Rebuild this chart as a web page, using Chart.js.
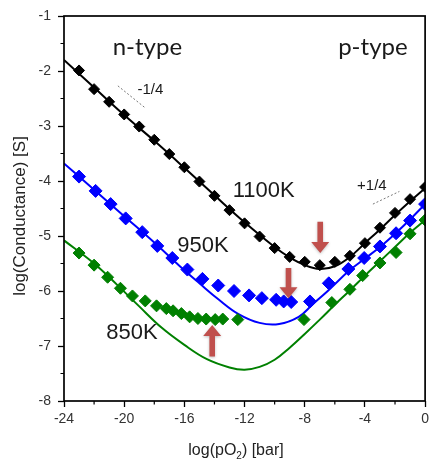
<!DOCTYPE html>
<html>
<head>
<meta charset="utf-8">
<script src="https://cdn.jsdelivr.net/npm/chart.js@4.4.0/dist/chart.umd.min.js"></script>
<style>
html, body { margin: 0; padding: 0; background: #fff; }
#wrap { width: 433px; height: 459px; }
</style>
</head>
<body>
<div id="wrap"><canvas id="condChart" width="433" height="459"></canvas></div>
<script>
// values: log(pO2) [bar] vs log(conductance) [S]
const xTicks = [-24, -20, -16, -12, -8, -4, 0];
const yTicks = [-1, -2, -3, -4, -5, -6, -7, -8];

const x1100 = [-23, -22, -21, -20, -19, -18, -17, -16, -15, -14, -13, -12, -11, -10, -9, -8, -7, -6, -5, -4, -3, -2, -1, 0];
const y1100 = [-1.99, -2.33, -2.56, -2.79, -3.01, -3.25, -3.51, -3.75, -4.01, -4.27, -4.53, -4.77, -5.01, -5.22, -5.38, -5.47, -5.53, -5.47, -5.36, -5.13, -4.85, -4.58, -4.33, -4.11];
const xFit1100 = [-24, -22, -20, -18, -16, -14, -12, -10, -9, -8, -7, -6, -5, -4, -3, -2, -1, 0];
const yFit1100 = [-1.8, -2.3, -2.8, -3.27, -3.76, -4.26, -4.75, -5.2, -5.39, -5.53, -5.6, -5.55, -5.38, -5.13, -4.88, -4.62, -4.37, -4.13];

const x950 = [-23, -21.9, -20.9, -19.9, -18.8, -17.8, -16.8, -15.8, -14.8, -13.75, -12.7, -11.7, -10.85, -9.9, -9.4, -8.9, -7.65, -6.4, -5.1, -4.05, -3.0, -1.93, -1.0, 0];
const y950 = [-3.92, -4.18, -4.42, -4.68, -4.93, -5.18, -5.40, -5.61, -5.78, -5.9, -6.0, -6.08, -6.13, -6.16, -6.19, -6.2, -6.19, -5.86, -5.6, -5.4, -5.19, -4.95, -4.72, -4.42];
const xFit950 = [-24, -22, -20, -18, -16.3, -15, -13.7, -12.4, -11, -9.7, -8.4, -7.5, -6.4, -5, -4, -3, -2, -1, 0];
const yFit950 = [-3.68, -4.16, -4.64, -5.12, -5.55, -5.86, -6.16, -6.42, -6.58, -6.6, -6.47, -6.25, -5.98, -5.62, -5.41, -5.2, -4.96, -4.7, -4.42];

const x850 = [-23, -22, -21.1, -20.25, -19.45, -18.6, -17.85, -17.2, -16.75, -16.2, -15.65, -15.1, -14.55, -13.95, -13.45, -12.45, -8.05, -6.2, -5.0, -4.15, -3.0, -1.93, -1.0, 0];
const y850 = [-5.31, -5.53, -5.75, -5.95, -6.09, -6.18, -6.27, -6.32, -6.36, -6.41, -6.47, -6.5, -6.51, -6.52, -6.51, -6.52, -6.52, -6.21, -5.97, -5.72, -5.49, -5.3, -4.96, -4.71];
const xFit850 = [-24, -22, -20.5, -19, -17.5, -16, -14.5, -13, -12, -11, -10, -9, -8, -7, -6, -5, -4, -3, -2, -1, 0];
const yFit850 = [-5.08, -5.5, -5.88, -6.28, -6.67, -6.98, -7.24, -7.39, -7.43, -7.38, -7.25, -7.03, -6.78, -6.52, -6.25, -5.99, -5.72, -5.46, -5.2, -4.94, -4.71];

// slope guides (-1/4 and +1/4)
const xSlopeN = [-20.42, -18.65];
const ySlopeN = [-2.27, -2.66];
const xSlopeP = [-3.47, -1.71];
const ySlopeP = [-4.42, -4.19];

// annotations in data units
const labels = [
    { text: 'n-type', x: -18.46, y: -1.56, font: '24px Lato' },
    { text: 'p-type', x: -3.47, y: -1.56, font: '24px Lato' },
    { text: '-1/4', x: -18.26, y: -2.35, font: '15px "Liberation Sans"' },
    { text: '+1/4', x: -3.54, y: -4.09, font: '15px "Liberation Sans"' },
    { text: '1100K', x: -10.73, y: -4.18, font: '22px "Liberation Sans"' },
    { text: '950K', x: -14.76, y: -5.18, font: '22px "Liberation Sans"' },
    { text: '850K', x: -19.48, y: -6.76, font: '22px "Liberation Sans"' }
];
const arrows = [
    { x: -6.97, from: -4.74, to: -5.31 },
    { x: -9.08, from: -5.58, to: -6.13 },
    { x: -14.15, from: -7.19, to: -6.62 }
];

function pts(xs, ys) {
    return xs.map((x, i) => ({ x: x, y: ys[i] }));
}

function scatterSet(xs, ys, color, r) {
    return {
        data: pts(xs, ys),
        showLine: false,
        pointStyle: 'rectRot',
        pointRadius: r,
        pointBackgroundColor: color,
        pointBorderColor: color,
        pointBorderWidth: 1,
        order: 0
    };
}

function fitSet(xs, ys, color) {
    return {
        data: pts(xs, ys),
        borderColor: color,
        borderWidth: 2,
        pointRadius: 0,
        tension: 0.4,
        fill: false,
        order: 1
    };
}

function guideSet(xs, ys) {
    return {
        data: pts(xs, ys),
        borderColor: '#777',
        borderWidth: 1,
        borderDash: [2, 2],
        pointRadius: 0,
        fill: false,
        order: 1
    };
}

const decorPlugin = {
    id: 'decor',
    afterDraw(chart) {
        const ctx = chart.ctx;
        const a = chart.chartArea;
        const xs = chart.scales.x;
        const ys = chart.scales.y;
        ctx.save();

        // frame
        ctx.strokeStyle = '#000';
        ctx.lineWidth = 1.7;
        ctx.strokeRect(a.left, a.top, a.right - a.left, a.bottom - a.top);

        // minor ticks
        ctx.lineWidth = 1.2;
        ctx.beginPath();
        for (let v = -22; v < 0; v += 4) {
            const px = xs.getPixelForValue(v);
            ctx.moveTo(px, a.bottom);
            ctx.lineTo(px, a.bottom + 3.5);
        }
        for (let v = -7.5; v < -1; v += 1) {
            const py = ys.getPixelForValue(v);
            ctx.moveTo(a.left, py);
            ctx.lineTo(a.left - 3.5, py);
        }
        ctx.stroke();

        // text labels
        ctx.fillStyle = '#1a1a1a';
        ctx.textAlign = 'center';
        ctx.textBaseline = 'middle';
        labels.forEach(l => {
            ctx.font = l.font;
            ctx.fillText(l.text, xs.getPixelForValue(l.x), ys.getPixelForValue(l.y));
        });

        // red arrows
        arrows.forEach(ar => {
            const px = xs.getPixelForValue(ar.x);
            const y0 = ys.getPixelForValue(ar.from);
            const y1 = ys.getPixelForValue(ar.to);
            const dir = y1 > y0 ? 1 : -1;
            const head = 11;
            ctx.save();
            ctx.shadowColor = 'rgba(0,0,0,0.25)';
            ctx.shadowBlur = 3;
            ctx.shadowOffsetY = 1;
            ctx.fillStyle = '#c0504d';
            ctx.beginPath();
            ctx.moveTo(px - 2.8, y0);
            ctx.lineTo(px + 2.8, y0);
            ctx.lineTo(px + 2.8, y1 - dir * head);
            ctx.lineTo(px + 9, y1 - dir * head);
            ctx.lineTo(px, y1);
            ctx.lineTo(px - 9, y1 - dir * head);
            ctx.lineTo(px - 2.8, y1 - dir * head);
            ctx.closePath();
            ctx.fill();
            ctx.restore();
        });

        // axis titles
        ctx.fillStyle = '#222';
        ctx.save();
        ctx.translate(20, 216);
        ctx.rotate(-Math.PI / 2);
        ctx.font = '17px "Liberation Sans"';
        ctx.fillText('log(Conductance) [S]', 0, 0);
        ctx.restore();

        const p1 = 'log(pO', p2 = ') [bar]';
        ctx.font = '16px "Liberation Sans"';
        const w1 = ctx.measureText(p1).width;
        const w3 = ctx.measureText(p2).width;
        ctx.font = '10px "Liberation Sans"';
        const w2 = ctx.measureText('2').width;
        let sx = 236 - (w1 + w2 + w3) / 2;
        ctx.textAlign = 'left';
        ctx.textBaseline = 'alphabetic';
        ctx.font = '16px "Liberation Sans"';
        ctx.fillText(p1, sx, 455);
        ctx.font = '10px "Liberation Sans"';
        ctx.fillText('2', sx + w1, 459);
        ctx.font = '16px "Liberation Sans"';
        ctx.fillText(p2, sx + w1 + w2, 455);

        ctx.restore();
    }
};

const ctx = document.getElementById('condChart').getContext('2d');
new Chart(ctx, {
    type: 'line',
    data: {
        datasets: [
            scatterSet(x1100, y1100, '#000000', 5.5),
            scatterSet(x950, y950, '#0000ff', 6.5),
            scatterSet(x850, y850, '#008000', 6),
            fitSet(xFit1100, yFit1100, '#000000'),
            fitSet(xFit950, yFit950, '#0000ff'),
            fitSet(xFit850, yFit850, '#008000'),
            guideSet(xSlopeN, ySlopeN),
            guideSet(xSlopeP, ySlopeP)
        ]
    },
    options: {
        responsive: false,
        animation: false,
        events: [],
        layout: {
            padding: { top: 16, right: 5, left: 0, bottom: 0 }
        },
        plugins: {
            legend: { display: false },
            tooltip: { enabled: false }
        },
        scales: {
            x: {
                type: 'linear',
                min: -24,
                max: 0,
                afterFit: function(scale) { scale.height = 58; },
                afterBuildTicks: function(scale) {
                    scale.ticks = xTicks.map(v => ({ value: v }));
                },
                grid: {
                    drawOnChartArea: false,
                    drawTicks: true,
                    tickLength: 6,
                    tickColor: '#000',
                    tickWidth: 1.3
                },
                border: { display: false },
                ticks: {
                    padding: 4,
                    color: '#333',
                    font: { family: 'Liberation Sans', size: 14 }
                }
            },
            y: {
                type: 'linear',
                min: -8,
                max: -1,
                afterFit: function(scale) { scale.width = 64; },
                afterBuildTicks: function(scale) {
                    scale.ticks = yTicks.map(v => ({ value: v }));
                },
                grid: {
                    drawOnChartArea: false,
                    drawTicks: true,
                    tickLength: 6,
                    tickColor: '#000',
                    tickWidth: 1.3
                },
                border: { display: false },
                ticks: {
                    padding: 7,
                    color: '#333',
                    font: { family: 'Liberation Sans', size: 14 }
                }
            }
        }
    },
    plugins: [decorPlugin]
});
</script>
</body>
</html>
